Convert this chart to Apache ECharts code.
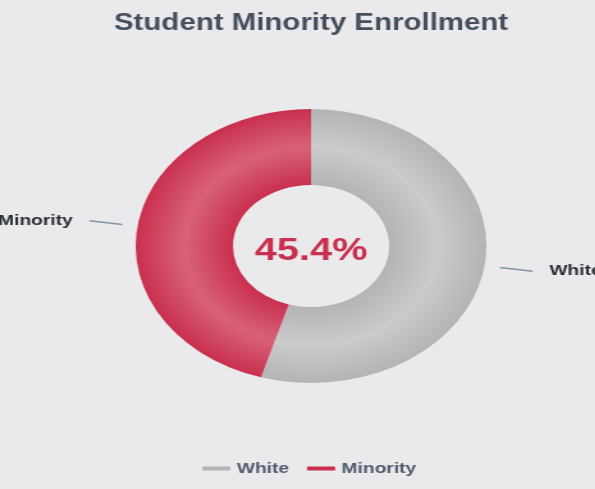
<!DOCTYPE html>
<html>
<head>
<meta charset="utf-8">
<script src="https://cdn.jsdelivr.net/npm/echarts@6/dist/echarts.min.js"></script>
<style>
  html, body { margin: 0; padding: 0; background: #eaeaed; overflow: hidden; }
  /* the reference is stretched sideways, so draw narrower and widen the box */
  #container {
    width: 465px;
    height: 489px;
    transform: scaleX(1.28);
    transform-origin: 0 0;
  }
</style>
</head>
<body>
<div id="container"></div>
<script>
// data
let categories = ['White', 'Minority']
let shares = [54.6, 45.4]
let colours = ['#b4b4b4', '#c9304e']
let colourMid = ['#cbcbcb', '#d8627a']

let cx = 243, cy = 246
let rIn = 61, rOut = 137

function ring(i) {
  return {
    type: 'radial', x: cx, y: cy, r: rOut, global: true,
    colorStops: [
      { offset: 0, color: colours[i] },
      { offset: rIn / rOut, color: colours[i] },
      { offset: (rIn + rOut) / 2 / rOut, color: colourMid[i] },
      { offset: 1, color: colours[i] }
    ]
  }
}

let pieData = categories.map((c, i) => ({
  name: c, value: shares[i], itemStyle: { color: ring(i) }
}))
// a see-through pie a bit bigger, only so the label lines start off the ring
let labelData = categories.map((c, i) => ({
  name: c, value: shares[i], itemStyle: { color: 'rgba(0,0,0,0)' }
}))

let divEle = document.getElementById('container')
let instance = echarts.init(divEle)

instance.setOption({
  animation: false,
  backgroundColor: '#eaeaed',
  title: [
    {
      text: 'Student Minority Enrollment',
      left: cx - 5, top: 7, textAlign: 'center',
      textStyle: { fontFamily: 'Liberation Sans', fontSize: 23, fontWeight: 'bold', color: '#474f5f' }
    },
    {
      text: shares[1].toFixed(1) + '%',
      left: cx - 5, top: cy, textAlign: 'center', textVerticalAlign: 'middle',
      textStyle: { fontFamily: 'Liberation Sans', fontSize: 31, fontWeight: 'bold', color: '#c9304e' }
    }
  ],
  legend: {
    left: 153,
    bottom: 8,
    icon: 'roundRect',
    itemWidth: 22,
    itemHeight: 4,
    itemGap: 14,
    data: categories.map((c, i) => ({ name: c, itemStyle: { color: colours[i] } })),
    textStyle: { fontFamily: 'Liberation Sans', fontSize: 15, fontWeight: 'bold', color: '#525a6b' }
  },
  series: [
    {
      name: 'ring',
      type: 'pie',
      center: [cx, cy],
      radius: [rIn, rOut],
      silent: true,
      label: { show: false },
      labelLine: { show: false },
      data: pieData
    },
    {
      name: 'labels',
      type: 'pie',
      center: [cx, cy],
      radius: [0, 149],
      silent: true,
      avoidLabelOverlap: false,
      label: {
        show: true,
        formatter: '{b}',
        fontFamily: 'Liberation Sans',
        fontSize: 15,
        fontWeight: 'bold',
        color: '#2b2f38',
        distanceToLabelLine: 13,
        overflow: 'none'
      },
      labelLine: {
        show: true,
        length: 26,
        length2: 0,
        lineStyle: { color: '#8593a3', width: 1.5 }
      },
      data: labelData
    }
  ]
})
</script>
</body>
</html>
